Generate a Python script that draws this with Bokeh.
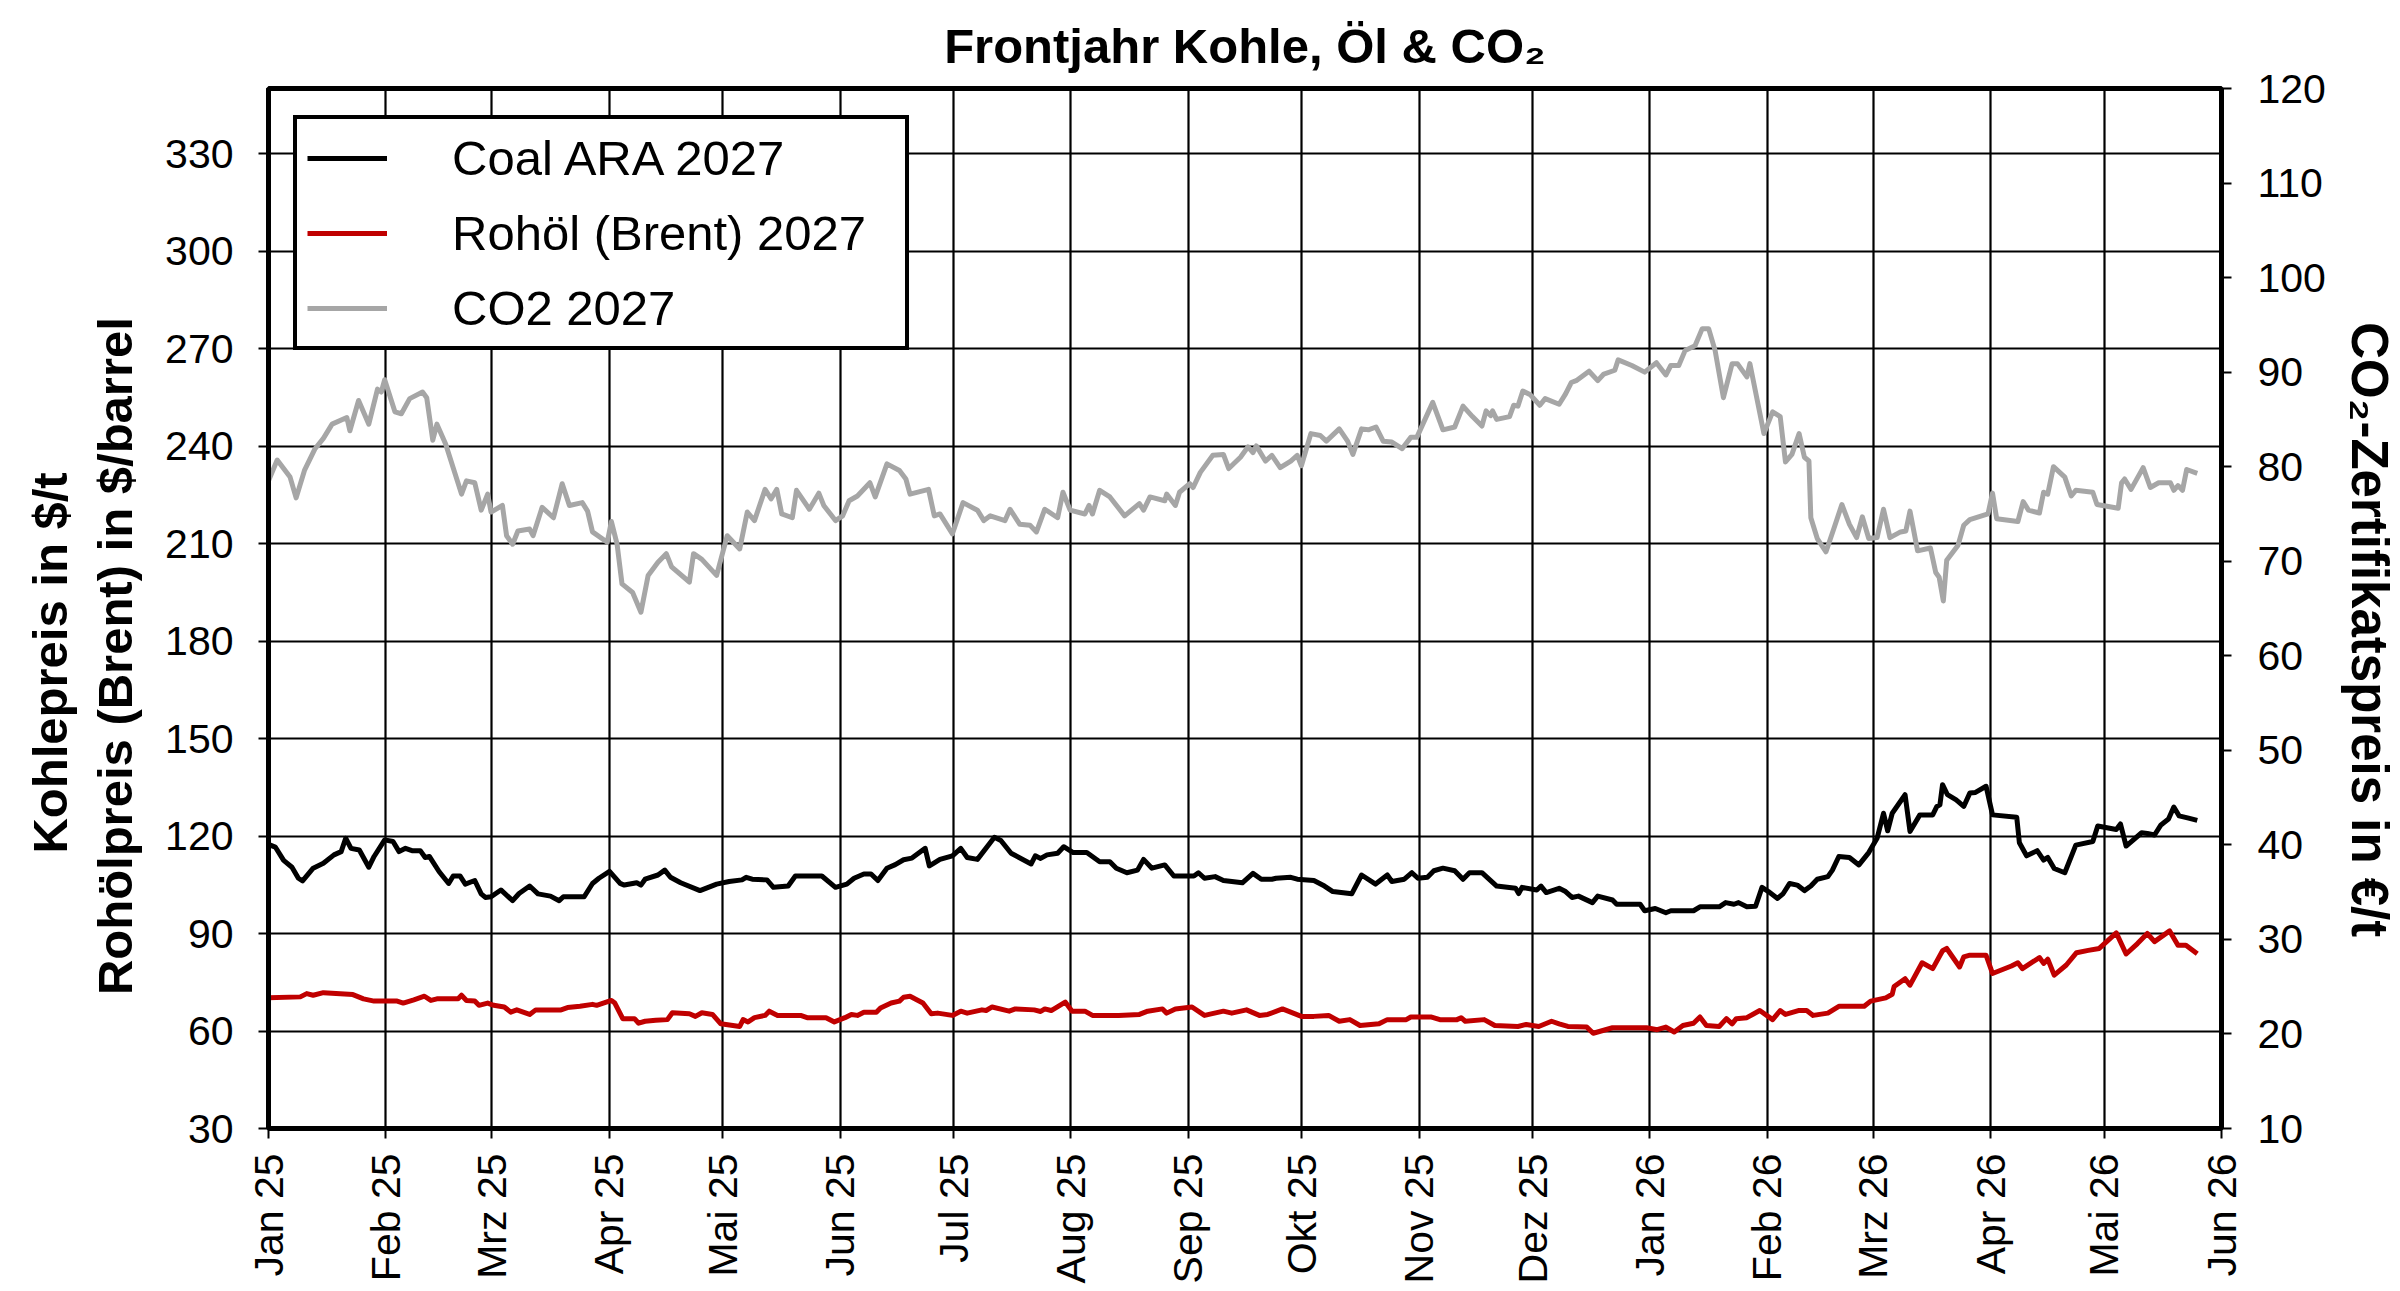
import math
import datetime as dt
from bokeh.plotting import figure
from bokeh.models import Range1d, LinearAxis, FixedTicker, Legend, LegendItem
from bokeh.embed import file_html
from bokeh.resources import INLINE

# ---------------- data (days since 2025-01-01) ----------------
co2_days = [
    0, 2.3, 5.7, 7.3, 9.5, 12.3, 14.5, 16.8, 20.7, 21.5,
    23.8, 26.5, 28.8, 29.8, 30.7, 33.4, 35.1, 37.3, 40.7, 41.8,
    43.4, 44.5, 46.8, 51, 52.3, 54.5, 56.2, 57.9, 58.8, 61.8,
    62.9, 64.5, 65.9, 69, 69.9, 72.3, 75.3, 77.6, 79.5, 82.9,
    84.3, 85.6, 89.5, 90.6, 92.1, 93.4, 96.2, 98.4, 100.3, 102.9,
    105.1, 106.5, 111.2, 112.3, 114.5, 118.4, 121.2, 124.5, 126.5, 128.4,
    131.2, 132.8, 134.3, 135.6, 138.4, 139.5, 142.9, 145.4, 146.7, 149.8,
    151.7, 153.4, 155.6, 158.9, 160.3, 163.4, 166.7, 168.4, 169.5,
    174.4, 175.9, 177.4, 180.7, 183.5, 187.3, 189, 190.7, 194.6, 195.9,
    198.5, 201.2, 202.9, 205.1, 208.5, 209.9, 211.8, 215.7, 216.8, 217.7,
    219.6, 222.3, 226.2, 230.1, 231.2, 232.9, 236.8, 237.3, 239.6, 240.7,
    243.4, 244.3, 246.2, 249.5, 252.3, 253.7, 256.8, 258.8, 260.1, 261,
    263.4, 265.1, 267.3, 270.1, 271.8, 272.9, 275.4, 277.9, 279.5, 282.9,
    285.1, 286.5, 288.8, 290.6, 292.6, 294.5, 296.8, 299.5, 301.8, 303.4,
    307.6, 310.3, 313.4, 315.6, 318.1, 320.6, 321.7, 322.9, 323.4, 324.5,
    327.9, 329, 330.1, 331.4, 333.4, 335.9, 337.3,
    341, 342.7, 344.2, 345.5, 348.9, 351.2, 352.8, 355.7, 356.6, 360.2,
    363.6, 366.7, 369.2, 370.5, 372.6, 374.3, 376.9, 378.8, 380.5, 382.2,
    384.4, 386.7, 388.1, 390.6, 391.4, 395.1, 397.4, 399.4, 400.8, 402.5,
    404.4, 405.8, 407, 407.5, 409.2, 411.5, 413.7, 415.7, 417.7, 419.6,
    421.1, 422.8, 425, 426.7, 428.4, 431.2, 432.6, 433.7, 435.7, 439.1,
    440.5, 441.4, 442.5, 443.4, 446.4, 447.9, 449.5, 454.3, 455.5, 456.6,
    462.2, 463.6, 465, 467.9, 469, 470.1, 471.6, 474.6, 476.3, 477.5,
    482, 483.1, 488.7, 489.6, 490.4, 492.1, 495.3, 497.2, 499.4, 502.5,
    503.4, 504.5, 505.7, 506.8, 509.6,
]
co2_vals = [
    78.5, 80.7, 78.9, 76.7, 79.6, 81.9, 83.0, 84.5, 85.2, 83.8,
    87.0, 84.5, 88.2, 87.9, 89.2, 85.8, 85.6, 87.2, 87.9, 87.3,
    82.8, 84.5, 82.4, 77.1, 78.5, 78.3, 75.4, 77.1, 75.2, 75.9,
    72.7, 71.8, 73.2, 73.4, 72.7, 75.7, 74.6, 78.2, 75.9, 76.2,
    75.3, 73.1, 72.0, 74.2, 71.8, 67.6, 66.7, 64.6, 68.5, 69.9,
    70.8, 69.4, 67.8, 70.8, 70.2, 68.5, 72.7, 71.3, 75.2, 74.3,
    77.6, 76.6, 77.6, 75.0, 74.6, 77.5, 75.5, 77.2, 75.9, 74.3,
    74.8, 76.4, 76.9, 78.3, 76.8, 80.3, 79.6, 78.7, 77.1,
    77.6, 74.8, 75.0, 72.9, 76.2, 75.4, 74.3, 74.8, 74.3, 75.5,
    73.9, 73.8, 73.1, 75.5, 74.6, 77.3, 75.4, 75.0, 75.9, 75.0,
    77.5, 76.8, 74.8, 76.1, 75.4, 76.8, 76.4, 77.1, 75.9, 77.3,
    78.2, 77.8, 79.4, 81.2, 81.3, 79.8, 81.0, 82.1, 81.5, 82.2,
    80.6, 81.2, 79.9, 80.6, 81.2, 80.1, 83.5, 83.3, 82.7, 84.0,
    82.7, 81.3, 84.0, 83.9, 84.2, 82.7, 82.6, 81.9, 83.1, 83.1,
    86.8, 83.9, 84.2, 86.4, 85.3, 84.3, 85.9, 85.4, 85.9, 85.0,
    85.3, 86.5, 86.4, 88.0, 87.6, 86.5, 87.2,
    86.6, 87.7, 88.9, 89.1, 90.1, 89.1, 89.8, 90.2, 91.3, 90.7,
    90.0, 91.0, 89.7, 90.7, 90.7, 92.3, 92.8, 94.6, 94.6, 92.3,
    87.3, 90.9, 90.9, 89.5, 90.9, 83.5, 85.8, 85.3, 80.5, 81.3,
    83.5, 81.0, 80.6, 74.6, 72.4, 71.0, 73.6, 76.0, 73.9, 72.5,
    74.7, 72.4, 72.5, 75.5, 72.5, 73.1, 73.2, 75.3, 71.1, 71.4,
    68.8, 68.3, 65.8, 70.1, 71.7, 73.8, 74.4, 75.0, 77.2, 74.5,
    74.2, 76.3, 75.4, 75.1, 77.3, 77.1, 80.0, 78.9, 76.9, 77.5,
    77.3, 76.0, 75.6, 78.3, 78.7, 77.6, 79.9, 77.8, 78.3, 78.3,
    77.5, 78.0, 77.5, 79.7, 79.3,
]

coal_days = [
    0, 1.8, 4, 6.2, 7.9, 9, 11.8, 14.5, 17.3, 19.2,
    20.4, 21.8, 24, 26.5, 27.9, 30.7, 32.9, 34.5, 36.2, 37.9,
    40.1, 41.4, 42.5, 45.1, 47.6, 48.8, 50.6, 52, 54.5, 56.2,
    57.3, 58.8, 61.4, 64.5, 66.2, 69, 71.2, 74.5, 76.8, 77.9,
    83.4, 85.6, 87.3, 90.1, 92.9, 94, 97.3, 98.4, 99.5, 102.9,
    104.7, 106.2, 108.9, 114, 118.4, 121.7, 125.1, 126.2, 127.8, 131.7,
    133.4, 137.3, 139.2, 146.2, 149.8, 152.8, 154.7, 157.3, 159.2, 161,
    163.4, 165.6, 167.8, 170,
    173.5, 174.6, 175.7, 177.4, 180.7, 182.9, 184.6, 187.3, 191.8, 193.5,
    196.2, 201.5, 202.6, 204, 205.7, 208.5, 210.1, 212.6, 216.2, 219.6,
    222.3, 224, 226.8, 229.6, 231.2, 233.4, 236.8, 239.2, 244.5, 245.7,
    247.3, 250.1, 252.3, 257.3, 260.1, 262.3, 265.1, 266.2, 270.1, 271.8,
    276.2, 279, 281.2, 286.2, 288.8, 292.5, 295.6, 296.8, 300.1, 302.1,
    303.7, 306.2, 307.9, 310.3, 313.4, 315.6, 317.3, 320.6, 324.5, 329.5,
    330.3, 331.2, 335.1, 336.2, 337.6,
    341, 342.7, 344.4, 346.1, 349.8, 351.2, 355.1, 356.2, 362.4, 363.6,
    366.4, 369.2, 370.5, 376.5, 378.2, 383.3, 385, 387.2, 388.4, 390.6,
    392.9, 394.6, 396.3, 398.7, 400.2, 401.9, 403.9, 405.8, 407.5, 409.2,
    412, 413.2, 414.9, 417.7, 420.2, 422.8, 425, 426.7, 427.8, 429,
    432.4, 433.7, 436.3, 439.7, 440.8, 441.6, 442.3, 443.6, 445.9, 447.9,
    449.5, 451, 453.8, 455.5, 461.9, 462.6, 464.5, 467.3, 469, 470.1,
    471.8, 474.6, 477.5, 482, 483.3, 488.2, 489.3, 490.8, 494.9, 496.4,
    498.3, 500, 502, 503.4, 504.8, 507.3, 509.6,
]
coal_vals = [
    117.4, 116.6, 112.5, 110.4, 107.0, 106.2, 110.1, 111.6, 114.2, 115.2,
    119.3, 116.2, 115.7, 110.4, 113.7, 118.8, 118.3, 115.2, 116.2, 115.5,
    115.5, 113.4, 113.7, 109.0, 105.4, 107.7, 107.7, 105.2, 106.3, 102.2,
    101.1, 101.3, 103.4, 100.1, 102.3, 104.6, 102.2, 101.5, 100.1, 101.3,
    101.3, 105.4, 107.0, 109.1, 105.4, 104.9, 105.6, 104.9, 106.7, 108.0,
    109.5, 107.3, 105.6, 103.2, 105.2, 106.0, 106.5, 107.3, 106.7, 106.5,
    104.2, 104.6, 107.7, 107.7, 104.2, 105.2, 107.0, 108.3, 108.3, 106.3,
    110.1, 111.2, 112.7, 113.2,
    116.2, 110.8, 111.6, 112.8, 113.9, 116.2, 113.4, 112.8, 119.6, 118.6,
    114.7, 111.4, 113.9, 113.1, 114.2, 114.7, 116.7, 114.9, 114.9, 112.1,
    112.1, 110.1, 108.7, 109.5, 112.8, 110.1, 111.1, 107.7, 107.7, 108.7,
    107.0, 107.5, 106.3, 105.6, 108.5, 106.7, 106.7, 107.0, 107.3, 106.7,
    106.3, 104.6, 102.9, 102.2, 108.0, 105.2, 108.0, 106.0, 106.7, 108.7,
    107.0, 107.3, 109.3, 110.1, 109.3, 106.7, 108.7, 108.7, 104.6, 103.9,
    102.3, 104.2, 103.4, 104.6, 102.6,
    103.9, 102.9, 101.1, 101.5, 99.5, 101.5, 100.3, 99.0, 99.0, 97.0,
    97.7, 96.4, 97.0, 97.0, 98.2, 98.2, 99.5, 99.0, 99.5, 98.2,
    98.4, 104.2, 102.9, 100.8, 102.3, 105.4, 104.9, 103.2, 104.6, 106.7,
    107.5, 109.5, 113.7, 113.4, 111.1, 114.9, 119.3, 127.0, 121.6, 127.0,
    132.7, 121.4, 126.5, 126.5, 129.1, 129.6, 135.8, 132.7, 131.1, 129.1,
    133.2, 133.4, 135.3, 126.5, 125.8, 117.9, 113.9, 115.5, 112.6, 113.4,
    110.0, 108.7, 117.2, 118.3, 123.1, 122.0, 123.7, 116.9, 121.0, 120.8,
    120.3, 123.4, 125.2, 128.9, 126.2, 125.5, 124.8,
]

brent_days = [
    0, 8.4, 10.1, 11.8, 14.5, 22.3, 25.1, 27.9, 34, 35.6,
    38.4, 41.2, 42.9, 44.5, 50.1, 51, 52.3, 54.5, 55.6, 57.9,
    59.5, 62.3, 64, 65.6, 69, 70.6, 73.4, 77.3, 79, 82.3,
    85.6, 86.7, 90.6, 91.5, 93.6, 96.7, 97.8, 99.5, 102.3, 105.4,
    106.7, 111.2, 112.8, 114.5, 117.3, 119.5, 124.5, 125.4, 126.7, 128.4,
    131.2, 132.3, 134.5, 140.6, 142.3, 147.3, 149.5, 152.3, 154, 155.6,
    157.3, 160.6, 161.7, 164.5, 166.7, 167.8, 169.5,
    172.9, 175.1, 176.8, 180.7, 182.9, 184.6, 188.5, 189.6, 191.2, 195.7,
    197.3, 202.3, 204, 205.1, 206.8, 210.5, 212.3, 215.7, 217.7, 224.6,
    230.1, 232.3, 236.2, 237.3, 239.6, 244, 247.3, 252.3, 254.5, 258.4,
    261.8, 264, 267.9, 272.9, 276.2, 280.1, 282.9, 285.7, 288.4, 293.4,
    295.6, 300.6, 301.8, 307.3, 309.5, 314, 315.1, 316.2, 321.2, 324,
    330.1, 332.3, 335.6, 339,
    341, 343.3, 348.3, 350, 355.1, 364.1, 366.9, 369.2, 371.4, 373.7,
    376.5, 378.2, 379.9, 383.3, 385.2, 386.7, 387.8, 390.6, 394, 397.4,
    399.4, 400.8, 404.2, 406.4, 408.1, 412, 414.9, 421.6, 423.3, 427.3,
    429, 429.5, 432.4, 433.7, 436.9, 439.7, 442.3, 443.4, 446.8, 447.9,
    449.3, 453.8, 455.5, 460.5, 462.2, 463.4, 467.9, 469, 470.1, 471.8,
    475, 477.7, 480.8, 483.7, 488.2, 490.8, 493.8, 496.4, 498.3, 502.3,
    504.5, 506.6, 509.6,
]
brent_vals = [
    70.2, 70.5, 71.5, 71.0, 71.8, 71.2, 69.9, 69.2, 69.2, 68.6,
    69.6, 70.7, 69.4, 69.9, 69.9, 71.0, 69.4, 69.2, 67.9, 68.6,
    67.9, 67.4, 65.8, 66.5, 65.1, 66.5, 66.5, 66.5, 67.2, 67.6,
    68.2, 67.9, 69.4, 68.6, 63.8, 63.8, 62.4, 63.0, 63.3, 63.5,
    65.6, 65.3, 64.5, 65.6, 65.1, 62.2, 61.4, 63.5, 62.8, 64.1,
    64.8, 66.1, 64.8, 64.8, 64.1, 64.1, 62.8, 64.1, 65.1, 64.8,
    65.8, 65.8, 67.1, 68.6, 69.2, 70.4, 70.7,
    68.6, 65.3, 65.5, 64.8, 66.1, 65.5, 66.5, 66.3, 67.4, 66.1,
    66.8, 66.5, 66.0, 66.8, 66.3, 68.9, 66.1, 66.1, 64.8, 64.8,
    65.1, 66.1, 66.8, 65.5, 66.8, 67.4, 64.8, 66.1, 65.5, 66.5,
    64.8, 65.1, 66.8, 64.5, 64.5, 64.8, 63.0, 63.5, 61.7, 62.2,
    63.5, 63.5, 64.3, 64.3, 63.5, 63.5, 64.1, 63.0, 63.5, 61.7,
    61.4, 62.0, 61.4, 63.0,
    62.2, 61.4, 61.2, 59.3, 61.0, 61.0, 60.4, 61.2, 59.7, 61.7,
    62.4, 64.3, 61.7, 61.4, 63.8, 62.2, 63.8, 64.1, 66.3, 63.5,
    66.3, 65.1, 66.3, 66.3, 64.8, 65.5, 67.6, 67.6, 69.2, 70.2,
    71.3, 73.7, 76.1, 74.1, 81.0, 79.2, 84.7, 85.4, 79.7, 82.8,
    83.3, 83.3, 77.7, 80.0, 81.0, 79.2, 82.6, 80.8, 82.1, 77.2,
    80.3, 84.1, 84.8, 85.4, 90.2, 83.7, 86.9, 90.0, 87.5, 90.8,
    86.4, 86.4, 83.8,
]

month_labels = ["Jan 25", "Feb 25", "Mrz 25", "Apr 25", "Mai 25", "Jun 25",
                "Jul 25", "Aug 25", "Sep 25", "Okt 25", "Nov 25", "Dez 25",
                "Jan 26", "Feb 26", "Mrz 26", "Apr 26", "Mai 26", "Jun 26"]
left_ticks = [30, 60, 90, 120, 150, 180, 210, 240, 270, 300, 330]
right_ticks = [10, 20, 30, 40, 50, 60, 70, 80, 90, 100, 110, 120]

series_names = ["Coal ARA 2027", "Rohöl (Brent) 2027", "CO2 2027"]
series_colors = ["#000000", "#C00000", "#A6A6A6"]

title_text = "Frontjahr Kohle, Öl & CO₂"
left_label_lines = ["Kohlepreis in $/t", "Rohölpreis (Brent) in $/barrel"]
right_label = "CO₂-Zertifikatspreis in €/t"

# ---------------- derived ----------------
base = dt.date(2025, 1, 1)
month_days = []
for i in range(len(month_labels)):
    y = 2025 + i // 12
    m = i % 12 + 1
    month_days.append((dt.date(y, m, 1) - base).days)


def pairs(a, b):
    n = min(len(a), len(b))
    return list(a[:n]), list(b[:n])


NB = "\u00a0"
FONT = "Liberation Sans"

p = figure(width=2400, height=1291, output_backend="svg", toolbar_location=None,
           x_range=Range1d(0, month_days[-1]), y_range=Range1d(30, 350),
           min_border_left=268, min_border_right=177, min_border_top=88,
           min_border_bottom=163)
p.background_fill_color = "white"
p.border_fill_color = "white"
p.outline_line_color = "black"
p.outline_line_width = 5

p.title.text = title_text
p.title.align = "center"
p.title.vertical_align = "middle"
p.title.text_font = FONT
p.title.text_font_size = "49px"
p.title.text_font_style = "bold"
p.title.text_color = "black"
p.title.standoff = 30

p.extra_y_ranges = {"co2": Range1d(10, 120)}

# x axis
xa = p.xaxis[0]
xa.ticker = FixedTicker(ticks=month_days)
xa.major_label_overrides = {d: lab for d, lab in zip(month_days, month_labels)}
xa.major_label_orientation = math.pi / 2
xa.major_label_standoff = 15

# left axis
ya = p.yaxis[0]
ya.ticker = FixedTicker(ticks=left_ticks)
ya.axis_label = (left_label_lines[0] + NB * 8) + "\n" + (left_label_lines[1] + NB * 7)
ya.major_label_standoff = 25
ya.axis_label_standoff = 20

# right axis
ra = LinearAxis(y_range_name="co2", ticker=FixedTicker(ticks=right_ticks))
ra.axis_label = NB * 3 + right_label
ra.major_label_standoff = 26
ra.axis_label_standoff = 12
p.add_layout(ra, "right")

for ax in [xa, ya, ra]:
    ax.axis_line_color = "black"
    ax.axis_line_width = 5
    ax.major_tick_line_color = "black"
    ax.major_tick_line_width = 2
    ax.major_tick_out = 10
    ax.major_tick_in = 0
    ax.minor_tick_line_color = None
    ax.major_label_text_font = FONT
    ax.major_label_text_font_size = "41px"
    ax.major_label_text_color = "black"
    ax.axis_label_text_font = FONT
    ax.axis_label_text_font_size = "49px"
    ax.axis_label_text_font_style = "bold"
    ax.axis_label_text_color = "black"
ra.axis_line_width = 4
ra.axis_label_text_font_size = "51px"

p.xgrid.ticker = FixedTicker(ticks=month_days)
p.ygrid.ticker = FixedTicker(ticks=left_ticks)
for g in [p.xgrid[0], p.ygrid[0]]:
    g.grid_line_color = "black"
    g.grid_line_width = 2.2
    g.grid_line_alpha = 1.0

cx, cy = pairs(coal_days, coal_vals)
bx, by = pairs(brent_days, brent_vals)
gx, gy = pairs(co2_days, co2_vals)

r_co2 = p.line(gx, gy, line_color=series_colors[2], line_width=5,
               line_join="round", y_range_name="co2")
r_brent = p.line(bx, by, line_color=series_colors[1], line_width=5, line_join="round")
r_coal = p.line(cx, cy, line_color=series_colors[0], line_width=5, line_join="round")

legend = Legend(items=[LegendItem(label=series_names[0], renderers=[r_coal]),
                       LegendItem(label=series_names[1], renderers=[r_brent]),
                       LegendItem(label=series_names[2], renderers=[r_co2])],
                location=(25, 778))
legend.label_text_font = FONT
legend.label_text_font_size = "49px"
legend.label_text_color = "black"
legend.border_line_color = "black"
legend.border_line_width = 4
legend.border_line_alpha = 1.0
legend.background_fill_color = "white"
legend.background_fill_alpha = 1.0
legend.padding = 10
legend.spacing = 18
legend.label_height = 57
legend.glyph_height = 40
legend.glyph_width = 80
legend.label_standoff = 65
legend.label_width = 443
legend.margin = 0
p.add_layout(legend)

open("out.html", "w").write(file_html(p, INLINE))
